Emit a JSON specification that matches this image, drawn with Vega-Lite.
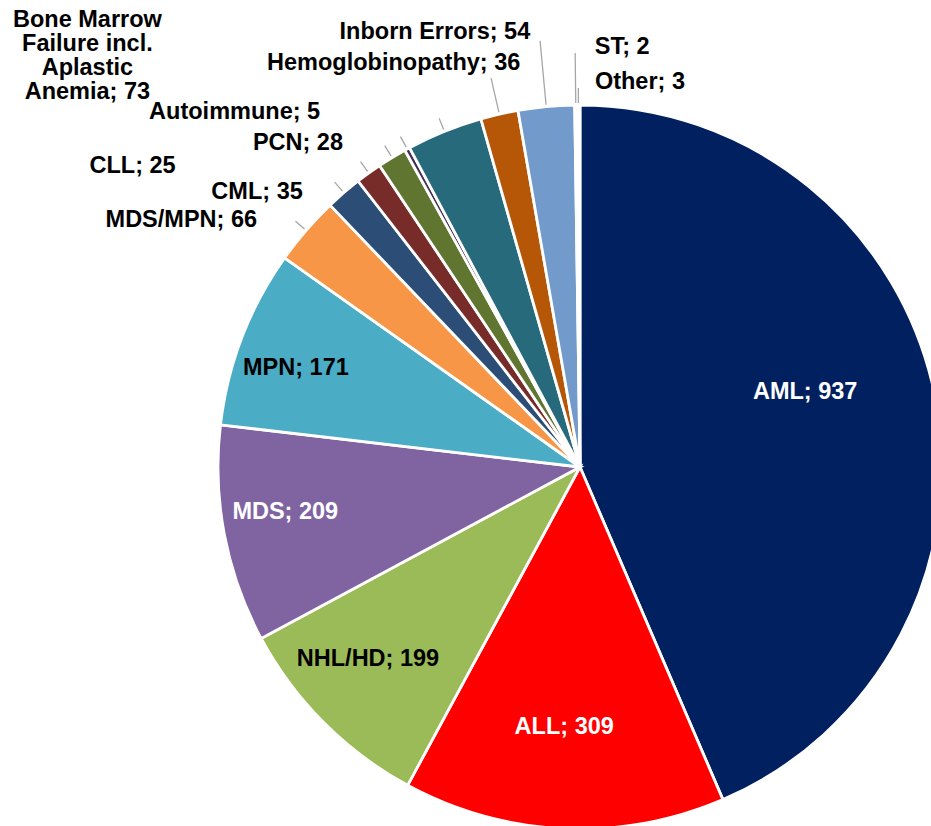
{
  "$schema": "https://vega.github.io/schema/vega-lite/v6.json",
  "width": 1160,
  "height": 934,
  "autosize": {"type": "none"},
  "padding": {"left": 0, "top": 0, "right": -229, "bottom": -108},
  "background": "white",
  "config": {"view": {"stroke": null}},
  "data": {
    "values": [
      {"idx": 1, "cat": "AML", "value": 937, "label": "AML; 937"},
      {"idx": 2, "cat": "ALL", "value": 309, "label": "ALL; 309"},
      {"idx": 3, "cat": "NHL/HD", "value": 199, "label": "NHL/HD; 199"},
      {"idx": 4, "cat": "MDS", "value": 209, "label": "MDS; 209"},
      {"idx": 5, "cat": "MPN", "value": 171, "label": "MPN; 171"},
      {"idx": 6, "cat": "MDS/MPN", "value": 66, "label": "MDS/MPN; 66"},
      {"idx": 7, "cat": "CML", "value": 35, "label": "CML; 35"},
      {"idx": 8, "cat": "CLL", "value": 25, "label": "CLL; 25"},
      {"idx": 9, "cat": "PCN", "value": 28, "label": "PCN; 28"},
      {"idx": 10, "cat": "Autoimmune", "value": 5, "label": "Autoimmune; 5"},
      {"idx": 11, "cat": "Bone Marrow Failure incl. Aplastic Anemia", "value": 73, "label": "Bone Marrow\nFailure incl.\nAplastic\nAnemia; 73"},
      {"idx": 12, "cat": "Hemoglobinopathy", "value": 36, "label": "Hemoglobinopathy; 36"},
      {"idx": 13, "cat": "Inborn Errors", "value": 54, "label": "Inborn Errors; 54"},
      {"idx": 14, "cat": "ST", "value": 2, "label": "ST; 2"},
      {"idx": 15, "cat": "Other", "value": 3, "label": "Other; 3"}
    ]
  },
  "transform": [
    {"stack": "value", "groupby": [], "sort": [{"field": "idx", "order": "ascending"}], "as": ["v0", "v1"]},
    {"fold": ["v0", "v1"], "as": ["edgeName", "edge"]},
    {"aggregate": [{"op": "mean", "field": "edge", "as": "mid"}], "groupby": ["cat", "idx", "value", "v0", "v1", "label"]}
  ],
  "layer": [
    {
      "mark": {"type": "arc", "outerRadius": 362, "stroke": "white", "strokeWidth": 2.8},
      "encoding": {
        "theta": {"field": "v0", "type": "quantitative", "scale": {"domain": [0, 2152], "range": [0, 6.283185307179586], "nice": false, "zero": true}},
        "theta2": {"field": "v1"},
        "color": {
          "field": "cat", "type": "nominal", "legend": null,
          "scale": {
            "domain": ["AML", "ALL", "NHL/HD", "MDS", "MPN", "MDS/MPN", "CML", "CLL", "PCN", "Autoimmune", "Bone Marrow Failure incl. Aplastic Anemia", "Hemoglobinopathy", "Inborn Errors", "ST", "Other"],
            "range": ["#002060", "#FF0000", "#9BBB59", "#8064A2", "#4BACC6", "#F79646", "#2C4D75", "#772C2A", "#5F7530", "#403152", "#276A7C", "#B65708", "#729ACA", "#FFFFFF", "#FFFFFF"]
          }
        }
      }
    },
    {
      "transform": [{"filter": {"field": "cat", "oneOf": ["MDS/MPN", "CML", "CLL", "PCN", "Autoimmune", "Bone Marrow Failure incl. Aplastic Anemia"]}}],
      "mark": {"type": "arc", "filled": false, "stroke": "#A6A6A6", "strokeWidth": 1.3, "innerRadius": 364, "outerRadius": 376},
      "encoding": {"theta": {"field": "mid", "type": "quantitative"}, "theta2": {"field": "mid"}}
    },
    {
      "transform": [{"filter": {"field": "cat", "equal": "Hemoglobinopathy"}}],
      "mark": {"type": "arc", "filled": false, "stroke": "#A6A6A6", "strokeWidth": 1.3, "innerRadius": 364, "outerRadius": 399},
      "encoding": {"theta": {"field": "mid", "type": "quantitative"}, "theta2": {"field": "mid"}}
    },
    {
      "transform": [{"filter": {"field": "cat", "equal": "Inborn Errors"}}],
      "mark": {"type": "arc", "filled": false, "stroke": "#A6A6A6", "strokeWidth": 1.3, "innerRadius": 364, "outerRadius": 428},
      "encoding": {"theta": {"field": "mid", "type": "quantitative"}, "theta2": {"field": "mid"}}
    },
    {
      "transform": [{"filter": {"field": "cat", "equal": "ST"}}],
      "mark": {"type": "arc", "filled": false, "stroke": "#A6A6A6", "strokeWidth": 1.3, "innerRadius": 364, "outerRadius": 414},
      "encoding": {"theta": {"field": "mid", "type": "quantitative"}, "theta2": {"field": "mid"}}
    },
    {
      "transform": [{"filter": {"field": "cat", "equal": "Other"}}],
      "mark": {"type": "arc", "filled": false, "stroke": "#A6A6A6", "strokeWidth": 1.3, "innerRadius": 364, "outerRadius": 379},
      "encoding": {"theta": {"field": "mid", "type": "quantitative"}, "theta2": {"field": "mid"}}
    },
    {
      "transform": [{"filter": {"field": "cat", "equal": "AML"}}],
      "mark": {"type": "text", "radius": 235, "dx": -5, "dy": -28, "align": "center", "baseline": "middle", "font": "Liberation Sans", "fontWeight": "bold", "fontSize": 23.5, "fill": "white"},
      "encoding": {"theta": {"field": "mid", "type": "quantitative", "stack": null}, "text": {"field": "label"}}
    },
    {
      "transform": [{"filter": {"field": "cat", "equal": "ALL"}}],
      "mark": {"type": "text", "radius": 260, "dx": -4, "dy": 0, "align": "center", "baseline": "middle", "font": "Liberation Sans", "fontWeight": "bold", "fontSize": 23.5, "fill": "white"},
      "encoding": {"theta": {"field": "mid", "type": "quantitative", "stack": null}, "text": {"field": "label"}}
    },
    {
      "transform": [{"filter": {"field": "cat", "equal": "NHL/HD"}}],
      "mark": {"type": "text", "radius": 286, "dx": -9.5, "dy": -10, "align": "center", "baseline": "middle", "font": "Liberation Sans", "fontWeight": "bold", "fontSize": 23.5, "fill": "black"},
      "encoding": {"theta": {"field": "mid", "type": "quantitative", "stack": null}, "text": {"field": "label"}}
    },
    {
      "transform": [{"filter": {"field": "cat", "equal": "MDS"}}],
      "mark": {"type": "text", "radius": 298, "dx": -2, "dy": -11, "align": "center", "baseline": "middle", "font": "Liberation Sans", "fontWeight": "bold", "fontSize": 23.5, "fill": "white"},
      "encoding": {"theta": {"field": "mid", "type": "quantitative", "stack": null}, "text": {"field": "label"}}
    },
    {
      "transform": [{"filter": {"field": "cat", "equal": "MPN"}}],
      "mark": {"type": "text", "radius": 300, "dx": -4, "dy": 8.5, "align": "center", "baseline": "middle", "font": "Liberation Sans", "fontWeight": "bold", "fontSize": 23.5, "fill": "black"},
      "encoding": {"theta": {"field": "mid", "type": "quantitative", "stack": null}, "text": {"field": "label"}}
    },
    {
      "transform": [{"filter": {"field": "cat", "equal": "MDS/MPN"}}],
      "mark": {"type": "text", "radius": 362, "dx": -49, "dy": -10.5, "align": "right", "baseline": "middle", "font": "Liberation Sans", "fontWeight": "bold", "fontSize": 23.5, "fill": "black"},
      "encoding": {"theta": {"field": "mid", "type": "quantitative", "stack": null}, "text": {"field": "label"}}
    },
    {
      "transform": [{"filter": {"field": "cat", "equal": "CML"}}],
      "mark": {"type": "text", "radius": 362, "dx": -41, "dy": -1, "align": "right", "baseline": "middle", "font": "Liberation Sans", "fontWeight": "bold", "fontSize": 23.5, "fill": "black"},
      "encoding": {"theta": {"field": "mid", "type": "quantitative", "stack": null}, "text": {"field": "label"}}
    },
    {
      "transform": [{"filter": {"field": "cat", "equal": "CLL"}}],
      "mark": {"type": "text", "radius": 362, "dx": -193, "dy": -7, "align": "right", "baseline": "middle", "font": "Liberation Sans", "fontWeight": "bold", "fontSize": 23.5, "fill": "black"},
      "encoding": {"theta": {"field": "mid", "type": "quantitative", "stack": null}, "text": {"field": "label"}}
    },
    {
      "transform": [{"filter": {"field": "cat", "equal": "PCN"}}],
      "mark": {"type": "text", "radius": 362, "dx": -49, "dy": -14.5, "align": "right", "baseline": "middle", "font": "Liberation Sans", "fontWeight": "bold", "fontSize": 23.5, "fill": "black"},
      "encoding": {"theta": {"field": "mid", "type": "quantitative", "stack": null}, "text": {"field": "label"}}
    },
    {
      "transform": [{"filter": {"field": "cat", "equal": "Autoimmune"}}],
      "mark": {"type": "text", "radius": 362, "dx": -87, "dy": -37, "align": "right", "baseline": "middle", "font": "Liberation Sans", "fontWeight": "bold", "fontSize": 23.5, "fill": "black"},
      "encoding": {"theta": {"field": "mid", "type": "quantitative", "stack": null}, "text": {"field": "label"}}
    },
    {
      "transform": [{"filter": {"field": "cat", "equal": "Bone Marrow Failure incl. Aplastic Anemia"}}],
      "mark": {"type": "text", "radius": 362, "dx": -357, "dy": -111, "align": "center", "baseline": "middle", "lineBreak": "\n", "lineHeight": 24, "font": "Liberation Sans", "fontWeight": "bold", "fontSize": 23.5, "fill": "black"},
      "encoding": {"theta": {"field": "mid", "type": "quantitative", "stack": null}, "text": {"field": "label"}}
    },
    {
      "transform": [{"filter": {"field": "cat", "equal": "Hemoglobinopathy"}}],
      "mark": {"type": "text", "radius": 362, "dx": 21, "dy": -51, "align": "right", "baseline": "middle", "font": "Liberation Sans", "fontWeight": "bold", "fontSize": 23.5, "fill": "black"},
      "encoding": {"theta": {"field": "mid", "type": "quantitative", "stack": null}, "text": {"field": "label"}}
    },
    {
      "transform": [{"filter": {"field": "cat", "equal": "Inborn Errors"}}],
      "mark": {"type": "text", "radius": 362, "dx": -16, "dy": -74.5, "align": "right", "baseline": "middle", "font": "Liberation Sans", "fontWeight": "bold", "fontSize": 23.5, "fill": "black"},
      "encoding": {"theta": {"field": "mid", "type": "quantitative", "stack": null}, "text": {"field": "label"}}
    },
    {
      "transform": [{"filter": {"field": "cat", "equal": "ST"}}],
      "mark": {"type": "text", "radius": 362, "dx": 19, "dy": -58, "align": "left", "baseline": "middle", "font": "Liberation Sans", "fontWeight": "bold", "fontSize": 23.5, "fill": "black"},
      "encoding": {"theta": {"field": "mid", "type": "quantitative", "stack": null}, "text": {"field": "label"}}
    },
    {
      "transform": [{"filter": {"field": "cat", "equal": "Other"}}],
      "mark": {"type": "text", "radius": 362, "dx": 16.5, "dy": -23, "align": "left", "baseline": "middle", "font": "Liberation Sans", "fontWeight": "bold", "fontSize": 23.5, "fill": "black"},
      "encoding": {"theta": {"field": "mid", "type": "quantitative", "stack": null}, "text": {"field": "label"}}
    }
  ]
}
